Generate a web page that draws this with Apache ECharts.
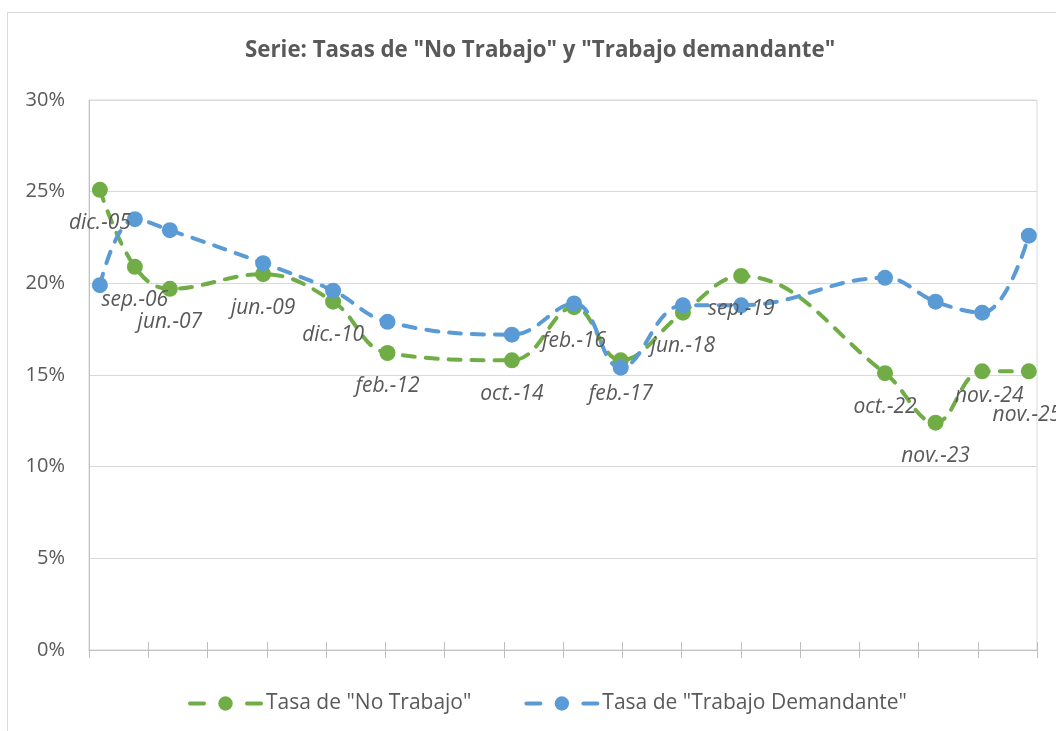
<!DOCTYPE html>
<html>
<head>
<meta charset="utf-8">
<script src="https://cdn.jsdelivr.net/npm/echarts@6/dist/echarts.min.js"></script>
<style>
  html, body { margin: 0; padding: 0; background: #fff; }
  #chart { width: 1056px; height: 731px; }
</style>
</head>
<body>
<div id="chart"></div>
<script>
// fechas de cada medición (año-mes) y su etiqueta
var dates = ['2005-12', '2006-09', '2007-06', '2009-06', '2010-12', '2012-02', '2014-10', '2016-02',
  '2017-02', '2018-06', '2019-09', '2022-10', '2023-11', '2024-11', '2025-11'];
var dateLabels = ['dic.-05', 'sep.-06', 'jun.-07', 'jun.-09', 'dic.-10', 'feb.-12', 'oct.-14', 'feb.-16',
  'feb.-17', 'jun.-18', 'sep.-19', 'oct.-22', 'nov.-23', 'nov.-24', 'nov.-25'];

// tasas en %
var noTrabajo = [25.1, 20.9, 19.7, 20.5, 19.0, 16.2, 15.8, 18.7, 15.8, 18.4, 20.4, 15.1, 12.4, 15.2, 15.2];
var trabajoDemandante = [19.9, 23.5, 22.9, 21.1, 19.6, 17.9, 17.2, 18.9, 15.4, 18.8, 18.8, 20.3, 19.0, 18.4, 22.6];

var yTicks = [0, 5, 10, 15, 20, 25, 30];
var seriesNames = ['Tasa de "No Trabajo"', 'Tasa de "Trabajo Demandante"'];

var green = '#70ad47';
var blue = '#5b9bd5';
var textColor = '#595959';
var font = "'Open Sans', sans-serif";

function toMonth(s) {
  var p = s.split('-');
  return +p[0] * 12 + (+p[1] - 1);
}

// ajustes manuales de algunas etiquetas (como en el original)
var labelShift = {
  'nov.-24': [7, -9],
  'nov.-25': [-2, 10]
};

var greenData = dates.map(function (d, i) {
  var item = { value: [toMonth(d), noTrabajo[i]], name: dateLabels[i] };
  if (labelShift[dateLabels[i]]) {
    item.label = { offset: labelShift[dateLabels[i]] };
  }
  return item;
});
var blueData = dates.map(function (d, i) {
  return [toMonth(d), trabajoDemandante[i]];
});

var tickCats = [];
for (var k = 0; k < 16; k++) tickCats.push('');

var chart = echarts.init(document.getElementById('chart'));

var lineCommon = {
  type: 'line',
  smooth: 0.4,
  symbol: 'circle',
  symbolSize: 16,
  xAxisIndex: 0
};

chart.setOption({
  backgroundColor: '#fff',
  animation: false,
  title: {
    text: 'Serie: Tasas de "No Trabajo" y "Trabajo demandante"',
    left: 240,
    top: 35,
    textStyle: { fontFamily: font, fontSize: 22.3, fontWeight: 'bold', color: textColor }
  },
  legend: {
    top: 688,
    left: 183,
    itemWidth: 71,
    itemHeight: 18,
    itemGap: 53,
    lineStyle: { width: 4, type: [14, 43], cap: 'round' },
    textStyle: { fontFamily: font, fontSize: 21, color: textColor },
    data: seriesNames
  },
  graphic: [{
    type: 'rect',
    shape: { x: 7.5, y: 12.5, width: 1100, height: 800 },
    style: { fill: null, stroke: '#d9d9d9', lineWidth: 1 },
    silent: true
  }],
  grid: {
    left: 89,
    right: 19,
    top: 100,
    bottom: 81,
    show: true,
    borderColor: '#d9d9d9',
    borderWidth: 1
  },
  xAxis: [
    {
      type: 'value',
      min: 24068.2,
      max: 24312.1,
      show: false
    },
    {
      type: 'category',
      data: tickCats,
      boundaryGap: true,
      position: 'bottom',
      axisLine: { lineStyle: { color: '#bfbfbf', width: 1 } },
      axisTick: { show: true, length: 8, lineStyle: { color: '#bfbfbf' } },
      axisLabel: { show: false },
      splitLine: { show: false }
    },
    {
      type: 'category',
      data: tickCats,
      boundaryGap: true,
      position: 'bottom',
      axisLine: { show: false },
      axisTick: { show: true, inside: true, length: 8, lineStyle: { color: '#bfbfbf' } },
      axisLabel: { show: false },
      splitLine: { show: false }
    }
  ],
  yAxis: {
    type: 'value',
    min: yTicks[0],
    max: yTicks[yTicks.length - 1],
    interval: 5,
    axisLine: { show: true, lineStyle: { color: '#bfbfbf' } },
    axisTick: { show: false },
    axisLabel: {
      formatter: '{value}%',
      margin: 24,
      fontFamily: font,
      fontSize: 20,
      color: textColor
    },
    splitLine: { lineStyle: { color: '#d9d9d9', width: 1 } }
  },
  series: [
    Object.assign({}, lineCommon, {
      name: seriesNames[0],
      data: greenData,
      itemStyle: { color: green },
      lineStyle: { color: green, width: 4, type: [12, 11], cap: 'round' },
      label: {
        show: true,
        position: 'bottom',
        distance: 15,
        formatter: '{b}',
        fontFamily: font,
        fontStyle: 'italic',
        fontSize: 21,
        color: textColor
      }
    }),
    Object.assign({}, lineCommon, {
      name: seriesNames[1],
      data: blueData,
      itemStyle: { color: blue },
      lineStyle: { color: blue, width: 4, type: [12, 11], cap: 'round' }
    })
  ]
});
</script>
</body>
</html>
